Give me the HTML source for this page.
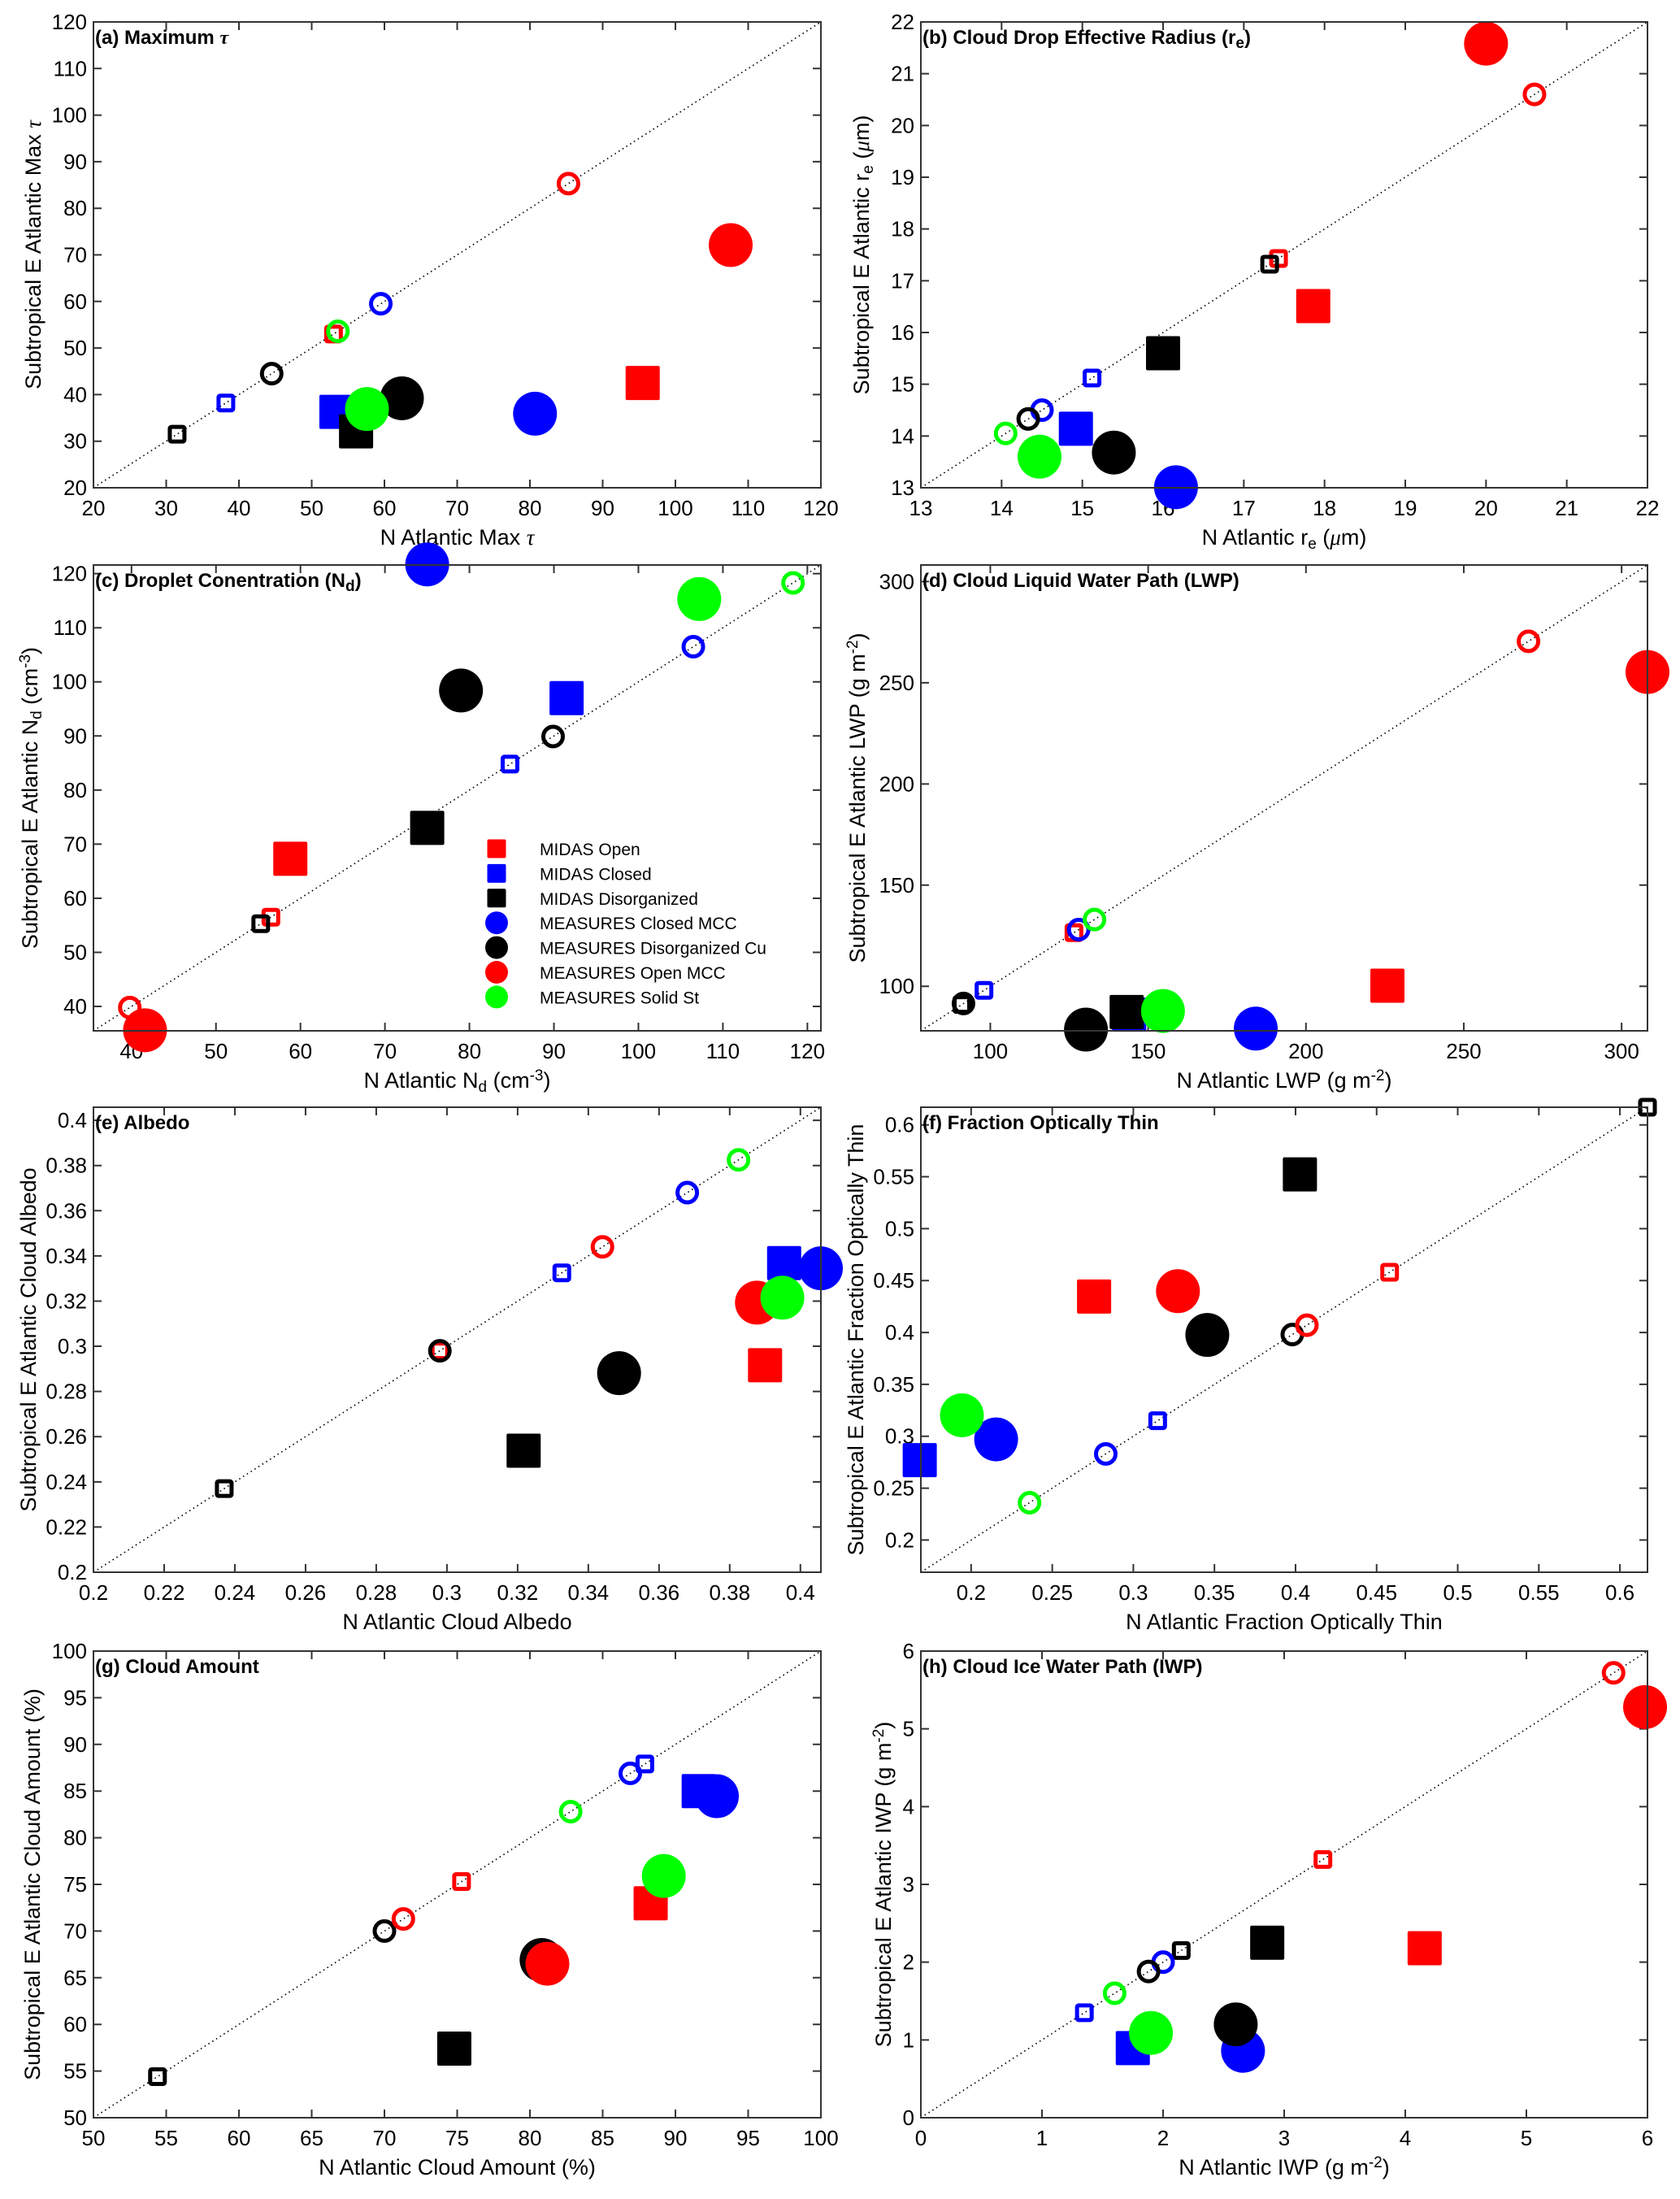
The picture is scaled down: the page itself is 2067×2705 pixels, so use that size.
<!DOCTYPE html>
<html><head><meta charset="utf-8"><title>N Atlantic vs Subtropical E Atlantic cloud properties</title>
<style>
html,body{margin:0;padding:0;background:#fff;}
svg{display:block;font-family:"Liberation Sans",Arial,sans-serif;}
</style></head>
<body>
<svg id="fig" width="2067" height="2705" viewBox="0 0 2067 2705" xmlns="http://www.w3.org/2000/svg"></svg>
<script>
// Series order: MIDAS Open, MIDAS Closed, MIDAS Disorganized, MEASURES Closed MCC, MEASURES Disorganized Cu, MEASURES Open MCC, MEASURES Solid St
const seriesNames = ["MIDAS Open","MIDAS Closed","MIDAS Disorganized","MEASURES Closed MCC","MEASURES Disorganized Cu","MEASURES Open MCC","MEASURES Solid St"];
const seriesColors = ["#ff0000","#0000ff","#000000","#0000ff","#000000","#ff0000","#00ff00"];
const seriesShapes = ["square","square","square","circle","circle","circle","circle"];

// (a) Maximum tau
const aBigX = [95.5, 53.4, 56.1, 80.7, 62.4, 107.6, 57.6];
const aBigY = [42.5, 36.3, 32.1, 35.9, 39.2, 72.1, 36.9];
const aOpen = [53.0, 38.2, 31.5, 59.5, 44.5, 85.3, 53.6];
const aTicks = [20,30,40,50,60,70,80,90,100,110,120];
const aTickLabels = ["20","30","40","50","60","70","80","90","100","110","120"];
// (b) Effective radius
const bBigX = [17.86, 14.92, 16.0, 16.16, 15.39, 20.0, 14.47];
const bBigY = [16.51, 14.14, 15.6, 13.01, 13.68, 21.58, 13.6];
const bOpen = [17.43, 15.12, 17.32, 14.5, 14.33, 20.6, 14.05];
const bTicks = [13,14,15,16,17,18,19,20,21,22];
const bTickLabels = ["13","14","15","16","17","18","19","20","21","22"];
// (c) Droplet concentration
const cBigX = [58.8, 91.5, 75.0, 75.0, 79.0, 41.6, 107.2];
const cBigY = [67.3, 97.0, 73.0, 121.7, 98.4, 35.6, 115.3];
const cOpen = [56.5, 84.8, 55.3, 106.5, 89.9, 39.8, 118.3];
const cTicks = [40,50,60,70,80,90,100,110,120];
const cTickLabels = ["40","50","60","70","80","90","100","110","120"];
// (d) LWP
const dBigX = [225.8, 144.0, 143.2, 184.1, 130.3, 308.2, 154.7];
const dBigY = [100.3, 86.0, 87.3, 79.1, 78.6, 255.3, 87.8];
const dOpen = [126.5, 98.0, 91.0, 128.0, 91.5, 270.5, 133.0];
const dTicks = [100,150,200,250,300];
const dTickLabels = ["100","150","200","250","300"];
// (e) Albedo
const eBigX = [0.390, 0.3954, 0.3217, 0.4058, 0.3487, 0.3877, 0.3949];
const eBigY = [0.2916, 0.3368, 0.2538, 0.3345, 0.2881, 0.3193, 0.3215];
const eOpen = [0.298, 0.3325, 0.237, 0.368, 0.298, 0.344, 0.3825];
const eTicks = [0.2,0.22,0.24,0.26,0.28,0.3,0.32,0.34,0.36,0.38,0.4];
const eTickLabels = ["0.2","0.22","0.24","0.26","0.28","0.3","0.32","0.34","0.36","0.38","0.4"];
// (f) Fraction optically thin
const fBigX = [0.2758, 0.1683, 0.4027, 0.2154, 0.3456, 0.3275, 0.1943];
const fBigY = [0.4346, 0.277, 0.5523, 0.297, 0.3976, 0.4398, 0.3202];
const fOpen = [0.458, 0.315, 0.617, 0.283, 0.398, 0.407, 0.236];
const fTicks = [0.2,0.25,0.3,0.35,0.4,0.45,0.5,0.55,0.6];
const fTickLabels = ["0.2","0.25","0.3","0.35","0.4","0.45","0.5","0.55","0.6"];
// (g) Cloud amount
const gBigX = [88.3, 91.6, 74.8, 92.85, 80.8, 81.2, 89.2];
const gBigY = [72.98, 85.0, 57.4, 84.45, 66.9, 66.5, 75.9];
const gOpen = [75.3, 87.9, 54.4, 86.9, 70.0, 71.3, 82.8];
const gTicks = [50,55,60,65,70,75,80,85,90,95,100];
const gTickLabels = ["50","55","60","65","70","75","80","85","90","95","100"];
// (h) IWP
const hBigX = [4.16, 1.75, 2.86, 2.66, 2.60, 5.98, 1.90];
const hBigY = [2.18, 0.895, 2.25, 0.86, 1.20, 5.28, 1.09];
const hOpen = [3.32, 1.35, 2.15, 2.0, 1.88, 5.72, 1.6];
const hTicks = [0,1,2,3,4,5,6];
const hTickLabels = ["0","1","2","3","4","5","6"];

const NS = "http://www.w3.org/2000/svg";
const svg = document.getElementById("fig");
function mk(tag, attrs, parent){
  const e = document.createElementNS(NS, tag);
  for (const k in attrs) e.setAttribute(k, attrs[k]);
  (parent||svg).appendChild(e);
  return e;
}
const SUB = (t)=>'<tspan baseline-shift="-28%" font-size="19">'+t+'</tspan>';
const SUP = (t)=>'<tspan baseline-shift="45%" font-size="19">'+t+'</tspan>';
const TAU = '<tspan font-family="Liberation Serif, serif" font-style="italic">τ</tspan>';
const MU = '<tspan font-family="Liberation Serif, serif" font-style="italic">μ</tspan>';

const panels = [
 {id:"a", L:115, R:1010, T:27, B:600, min:20, max:120, bx:aBigX, by:aBigY, op:aOpen, ticks:aTicks, tl:aTickLabels,
  title:'(a) Maximum '+TAU, xl:'N Atlantic Max '+TAU, yl:'Subtropical E Atlantic Max '+TAU, yoff:74},
 {id:"b", L:1133, R:2027, T:27, B:600, min:13, max:22, bx:bBigX, by:bBigY, op:bOpen, ticks:bTicks, tl:bTickLabels,
  title:'(b) Cloud Drop Effective Radius (r'+SUB('e')+'<tspan dy="0">)</tspan>', xl:'N Atlantic r'+SUB('e')+' ('+MU+'m)', yl:'Subtropical E Atlantic r'+SUB('e')+' ('+MU+'m)', yoff:73},
 {id:"c", L:115, R:1010, T:695, B:1268, min:35.5, max:121.6, bx:cBigX, by:cBigY, op:cOpen, ticks:cTicks, tl:cTickLabels,
  title:'(c) Droplet Conentration (N'+SUB('d')+')', xl:'N Atlantic N'+SUB('d')+' (cm'+SUP('-3')+')', yl:'Subtropical E Atlantic N'+SUB('d')+' (cm'+SUP('-3')+')', yoff:78},
 {id:"d", L:1133, R:2027, T:695, B:1268, min:78, max:308.2, bx:dBigX, by:dBigY, op:dOpen, ticks:dTicks, tl:dTickLabels,
  title:'(d) Cloud Liquid Water Path (LWP)', xl:'N Atlantic LWP (g m'+SUP('-2')+')', yl:'Subtropical E Atlantic LWP (g m'+SUP('-2')+')', yoff:78},
 {id:"e", L:115, R:1010, T:1362, B:1934, min:0.2, max:0.4058, bx:eBigX, by:eBigY, op:eOpen, ticks:eTicks, tl:eTickLabels,
  title:'(e) Albedo', xl:'N Atlantic Cloud Albedo', yl:'Subtropical E Atlantic Cloud Albedo', yoff:80},
 {id:"f", L:1133, R:2027, T:1362, B:1934, min:0.169, max:0.617, bx:fBigX, by:fBigY, op:fOpen, ticks:fTicks, tl:fTickLabels,
  title:'(f) Fraction Optically Thin', xl:'N Atlantic Fraction Optically Thin', yl:'Subtropical E Atlantic Fraction Optically Thin', yoff:80},
 {id:"g", L:115, R:1010, T:2031, B:2605, min:50, max:100, bx:gBigX, by:gBigY, op:gOpen, ticks:gTicks, tl:gTickLabels,
  title:'(g) Cloud Amount', xl:'N Atlantic Cloud Amount (%)', yl:'Subtropical E Atlantic Cloud Amount (%)', yoff:75},
 {id:"h", L:1133, R:2027, T:2031, B:2605, min:0, max:6, bx:hBigX, by:hBigY, op:hOpen, ticks:hTicks, tl:hTickLabels,
  title:'(h) Cloud Ice Water Path (IWP)', xl:'N Atlantic IWP (g m'+SUP('-2')+')', yl:'Subtropical E Atlantic IWP (g m'+SUP('-2')+')', yoff:46},
];

function drawMarker(g, shape, cx, cy, size, color, filled){
  let el;
  if (shape === "square"){
    el = mk("rect", {x:cx-size/2, y:cy-size/2, width:size, height:size, rx:2}, g);
  } else {
    el = mk("ellipse", {cx:cx, cy:cy, rx:size/2, ry:size/2}, g);
  }
  if (filled){ el.setAttribute("fill", color); }
  else { el.setAttribute("fill", "none"); el.setAttribute("stroke", color); el.setAttribute("stroke-width", 5); }
  return el;
}

panels.forEach(p=>{
  const g = mk("g", {});
  
  
  const xs = v => p.L + (v - p.min) / (p.max - p.min) * (p.R - p.L);
  const ys = v => p.B - (v - p.min) / (p.max - p.min) * (p.B - p.T);

  p.ticks.forEach((t,i)=>{
    const x = xs(t), y = ys(t);
    const tk = mk("path", {d:`M${x},${p.B}v-10M${x},${p.T}v10M${p.L},${y}h10M${p.R},${y}h-10`, stroke:"#333", "stroke-width":2, fill:"none"}, g);
    
    
    const xt = mk("text", {x:x, y:p.B+34, "text-anchor":"middle", "font-size":26, fill:"#000"}, g);
    xt.textContent = p.tl[i];
    
    
    const yt = mk("text", {x:p.L-8, y:y+9, "text-anchor":"end", "font-size":26, fill:"#000"}, g);
    yt.textContent = p.tl[i];
    
    
  });

  const dl = mk("line", {x1:xs(p.min), y1:ys(p.min), x2:xs(p.max), y2:ys(p.max), stroke:"#000", "stroke-width":1.6, "stroke-dasharray":"1.6 4"}, g);
  
  

  for (let i=0;i<7;i++){
    const size = seriesShapes[i]==="square" ? 42 : 54;
    const m = drawMarker(g, seriesShapes[i], xs(p.bx[i]), ys(p.by[i]), size, seriesColors[i], true);
    
    
  }
  for (let i=0;i<7;i++){
    const size = seriesShapes[i]==="square" ? 18 : 24;
    const m = drawMarker(g, seriesShapes[i], xs(p.op[i]), ys(p.op[i]), size, seriesColors[i], false);
    
    
  }

  const box = mk("rect", {x:p.L, y:p.T, width:p.R-p.L, height:p.B-p.T, fill:"none", stroke:"#333", "stroke-width":2}, g);
  
  

  const tt = mk("text", {x:p.L+2, y:p.T+27, "font-size":24, "font-weight":"bold", fill:"#000"}, g);
  tt.innerHTML = p.title;
  
  

  const xl = mk("text", {x:(p.L+p.R)/2, y:p.B+70, "text-anchor":"middle", "font-size":27, fill:"#000"}, g);
  xl.innerHTML = p.xl;
  
  

  const cx = p.L - p.yoff, cy = (p.T+p.B)/2;
  const yl = mk("text", {x:cx, y:cy, "text-anchor":"middle", "font-size":27, fill:"#000", transform:`rotate(-90 ${cx} ${cy})`, dy:9}, g);
  yl.innerHTML = p.yl;
  
  
});

const lg = mk("g", {});


seriesNames.forEach((n,i)=>{
  const y = 1044 + i*30.4;
  const m = drawMarker(lg, seriesShapes[i], 611, y, seriesShapes[i]==="square"?23:28, seriesColors[i], true);
  
  
  const t = mk("text", {x:664, y:y+8, "font-size":21, fill:"#000"}, lg);
  t.textContent = n;
  
  
});
</script>
</body></html>
